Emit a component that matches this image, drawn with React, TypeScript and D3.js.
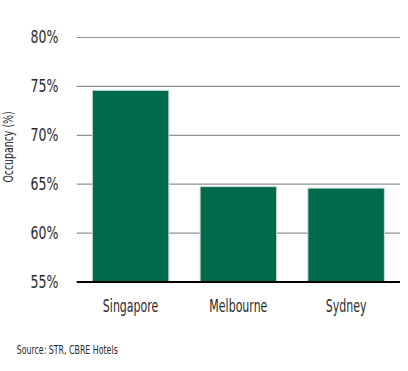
import React from "react";
import * as d3 from "d3";

const categories = ["Singapore", "Melbourne", "Sydney"];
const occupancy = [74.6, 64.75, 64.6];
const yTicks = [55, 60, 65, 70, 75, 80];

const W = 408, H = 371;
const left = 76.7, right = 400, top = 37.5, bottom = 282;
const font = "'DejaVu Sans Condensed', 'DejaVu Sans', sans-serif";

export default function App() {
  const x = d3.scaleBand<string>().domain(categories).range([left, right]).paddingInner(0.29).paddingOuter(0.145);
  const y = d3.scaleLinear().domain([55, 80]).range([bottom, top]);
  return (
    <svg width={W} height={H} style={{ position: "absolute", left: 0, top: 0 }} fontFamily={font}>
      {yTicks.filter(t => t !== 55).map(t => (
        <line key={t} x1={left} x2={right} y1={y(t)} y2={y(t)} stroke="#8c9396" strokeWidth={1.2} />
      ))}
      {categories.map((c, i) => (
        <rect key={c} x={x(c)} y={y(occupancy[i])} width={x.bandwidth()} height={bottom - y(occupancy[i])}
          fill="#006a4d" stroke="#c9ddd5" strokeWidth={1} />
      ))}
      <line x1={left} x2={right} y1={bottom} y2={bottom} stroke="#000" strokeWidth={2} />
      {yTicks.map(t => (
        <text key={t} transform={`translate(58.3,${y(t) + 5.5}) scale(0.82,1)`} textAnchor="end" fontSize={17} fill="#2a2a2a">{t}%</text>
      ))}
      <text transform={`translate(13,147) rotate(-90) scale(0.72,1)`} textAnchor="middle" fontSize={14.5} fill="#2a2a2a">Occupancy (%)</text>
      {categories.map(c => (
        <text key={c} transform={`translate(${(x(c) as number) + x.bandwidth() / 2},312.3) scale(0.72,1)`} textAnchor="middle" fontSize={17} fill="#2a2a2a">{c}</text>
      ))}
      <text transform="translate(16.7,354) scale(0.76,1)" fontSize={11.5} fill="#2a2a2a">Source: STR, CBRE Hotels</text>
    </svg>
  );
}
